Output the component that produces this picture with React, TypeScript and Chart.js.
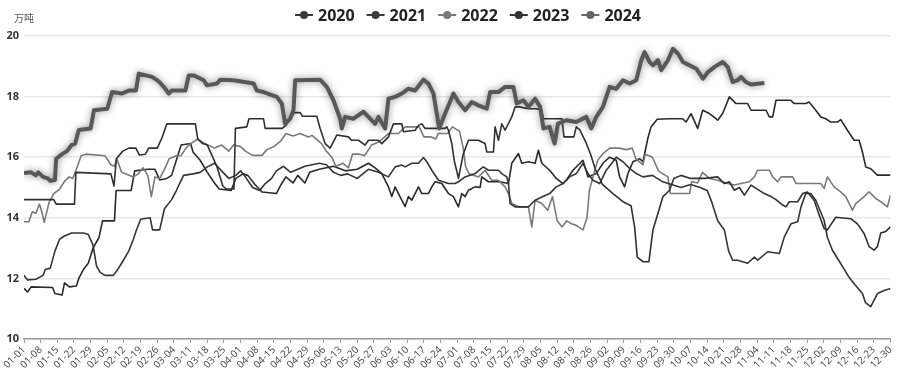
import { useEffect, useRef } from 'react';
import { Chart, registerables } from 'chart.js';
Chart.register(...registerables);

const years = ['2020', '2021', '2022', '2023', '2024'];
const monthLengths = [31, 29, 31, 30, 31, 30, 31, 31, 30, 31, 30, 30];
const categories: string[] = [];
monthLengths.forEach((n, m) => {
  for (let d = 1; d <= n; d++) categories.push(String(m + 1).padStart(2, '0') + '-' + String(d).padStart(2, '0'));
});
const yTicks = [10, 12, 14, 16, 18, 20];

const s2020: [number, number][] = [[0,14.6],[12.5,14.6],[13.5,14.45],[21.2,14.45],[21.8,15.5],[36.5,15.45],[37.8,15.05],[38.8,15.95],[41.5,16.2],[44,16.3],[47,16.3],[48.5,16.07],[51,16.1],[52.4,16.3],[56,16.3],[58,16.65],[60,17.1],[72,17.1],[73,16.6],[75,16.45],[77,16.4],[79,16.05],[81,15.7],[83.5,15.05],[85,14.95],[88.2,14.95],[88.8,16.95],[93.6,17.0],[94.5,17.27],[100.6,17.27],[101.3,16.95],[108.5,16.95],[110,17.05],[111.8,17.27],[113.5,17.47],[116,17.47],[117,17.35],[123,17.35],[124.4,16.95],[126.5,16.45],[128.6,16.3],[131.4,16.73],[136.3,16.67],[137.6,16.56],[140.5,16.56],[143.3,16.4],[144.7,16.56],[148.9,16.56],[150.3,16.45],[153.1,16.67],[155.2,17.1],[158.7,17.1],[159.4,16.84],[164.3,16.89],[165.7,17.05],[167.1,17.1],[168.5,16.95],[176.9,16.95],[177.6,17.0],[178.3,16.89],[179.7,16.45],[180.7,15.9],[182.5,15.3],[184.5,16.1],[186.7,16.56],[190.9,16.56],[193.7,16.45],[194.4,16.17],[197.2,16.17],[197.9,17.0],[199.3,16.56],[200.7,17.1],[202.1,16.89],[204.9,17.33],[206.3,17.66],[208,17.66],[211.9,17.6],[215.4,17.6],[217.5,17.55],[218.2,17.27],[226,17.27],[226.8,16.67],[231,16.67],[232,17.0],[233.5,16.9],[236,16.5],[238,16.1],[240,15.6],[243,15.1],[247.4,14.8],[251.6,14.53],[255,14.4],[256.5,13.7],[257.6,12.7],[260,12.55],[262.5,12.55],[264.2,13.6],[266.3,14.14],[268.4,14.7],[271.1,14.9],[273,15.3],[276,15.4],[280,15.3],[286,15.3],[291.4,15.35],[294.2,15.13],[296.3,15.19],[298.4,14.91],[300.5,15.0],[302.6,14.75],[305.4,15.08],[307.5,14.97],[311,14.8],[313.8,14.7],[315.9,14.6],[318.7,14.42],[320.1,14.36],[321.5,14.53],[325,14.53],[327.1,14.8],[329.1,14.85],[331.9,14.58],[334,14.1],[336.1,13.65],[337.5,13.6],[341,14.02],[347.3,13.97],[350.1,13.8],[352.9,13.48],[355,13.05],[357.1,12.93],[358.5,13.05],[359.9,13.5],[362,13.55],[364,13.7]];

const s2021: [number, number][] = [[0,12.1],[1.5,11.95],[5,11.97],[8,12.1],[9,12.3],[11,12.33],[13,12.9],[15,13.3],[17,13.4],[20,13.5],[25,13.5],[27,13.45],[29,13.1],[30.5,12.4],[32,12.2],[34,12.1],[37.5,12.1],[39,12.25],[41,12.5],[44,12.9],[46,13.3],[47,13.55],[49,13.95],[53,14.0],[54,13.6],[57,13.6],[59,14.3],[62,14.6],[64,14.9],[67,15.4],[71,15.45],[74,15.5],[77,15.68],[80,15.8],[83,15.55],[86,15.3],[89,15.4],[91,15.55],[93,15.35],[96,15.0],[99,14.9],[101,15.1],[104,15.3],[106,15.55],[109,15.7],[112,15.5],[115,15.6],[118,15.7],[121,15.75],[124,15.8],[127,15.75],[130,15.5],[133,15.4],[136,15.45],[140,15.3],[144.7,15.6],[148.9,15.5],[153.1,15.35],[155.9,15.68],[158.7,15.74],[160.1,15.68],[162.9,15.8],[165.7,15.8],[167.8,15.99],[169.2,15.85],[171.3,15.57],[174.1,15.24],[178.3,15.13],[181.1,15.13],[182.5,15.19],[185.3,15.35],[189.5,15.46],[192.9,15.68],[195.1,15.57],[199.3,15.57],[200.7,15.46],[202.8,15.35],[203.5,15.13],[204.2,14.47],[206.3,14.36],[211.9,14.36],[213.3,14.47],[214.7,14.58],[218,14.7],[220.8,14.8],[223.6,15.02],[226.4,15.13],[229.2,15.35],[232,15.46],[234.8,15.8],[236.9,15.46],[239,15.24],[241.8,15.13],[244.6,15.57],[247.4,15.85],[248.8,16.0],[251.6,15.85],[254.4,15.63],[257.2,15.46],[260,15.35],[264,15.4],[268,15.2],[272,15.1],[276,15.0],[280,15.1],[284,15.0],[287,14.9],[289,14.5],[291.4,13.9],[294.2,13.6],[296,12.9],[297.7,12.6],[299.8,12.6],[304,12.5],[306.8,12.7],[308.2,12.6],[312.4,12.88],[317.3,12.82],[319.4,13.37],[322.2,13.8],[325,13.87],[326.4,14.36],[328.4,14.8],[330.5,14.8],[332.6,14.58],[336.1,13.92],[337.5,13.35],[339.6,12.93],[343,12.5],[346.5,12.05],[349,11.8],[352.2,11.5],[353.5,11.2],[355.7,11.07],[358.5,11.5],[361.3,11.6],[364,11.67]];

const s2022: [number, number][] = [[0,13.87],[2,13.87],[3.5,14.2],[5,14.15],[6.5,14.45],[7.5,14.2],[8.5,13.85],[10.5,14.5],[12.5,14.8],[15,14.95],[17,15.2],[19,15.35],[20.5,15.3],[22,15.6],[24,16.05],[26,16.1],[34,16.05],[36.5,15.75],[38,15.7],[39,15.95],[41,15.5],[46,15.35],[48,15.45],[50,15.65],[52,15.4],[53.5,14.7],[55,15.35],[57,15.3],[59,15.6],[61,15.95],[64,16.05],[66,16.05],[68,16.3],[70,16.45],[73,16.6],[76,16.45],[80,16.3],[83,16.4],[86,16.2],[88,16.4],[91,16.35],[93,16.2],[96,16.06],[100,16.06],[102,16.25],[105,16.35],[108,16.55],[110,16.78],[113,16.7],[116,16.78],[119.5,16.67],[121,16.72],[125,16.45],[127,16.2],[129.3,16.0],[131,15.7],[134,15.8],[136.3,15.65],[138,16.1],[141,16.1],[143,16.05],[146,16.4],[149,16.5],[153.1,16.78],[157.3,16.78],[160,17.0],[166,17.0],[168,16.67],[171,16.67],[173,16.6],[174,16.78],[178,16.78],[180,17.0],[183,16.85],[184.5,16.3],[185.5,15.7],[187,15.45],[190.9,15.35],[193.7,15.57],[196.5,15.24],[199.3,15.24],[200.7,15.13],[202.1,15.02],[203.5,14.8],[204.9,14.47],[208,14.36],[211.9,14.36],[213.3,13.7],[214.7,14.58],[217.5,14.47],[220,14.25],[222,14.7],[224,13.9],[226,13.7],[228,13.9],[230,13.8],[232,13.75],[234.8,13.6],[236.5,14.0],[237.5,14.9],[239,15.35],[241,15.9],[243,16.1],[246,16.3],[250,16.3],[253,16.25],[255.5,16.3],[257,15.95],[260,15.75],[261,16.1],[264,16.0],[266.5,15.55],[268.4,15.45],[270.5,15.35],[271.5,14.8],[279.6,14.8],[280.5,15.2],[283,15.15],[285,15.5],[288,15.3],[291.4,15.24],[295.6,15.13],[298.4,15.08],[301.2,15.13],[304.7,15.19],[306.8,15.35],[308.2,15.57],[313.1,15.57],[314.5,15.35],[316.6,15.19],[318,15.35],[322.9,15.35],[324.3,15.13],[334.7,15.13],[336.1,14.97],[337.5,15.35],[340.3,15.02],[342.4,14.9],[345.2,14.7],[348,14.25],[349.4,14.47],[352.9,14.7],[355,14.86],[357.8,14.64],[359.9,14.53],[362.7,14.36],[364,14.75]];

const s2023: [number, number][] = [[0,11.67],[1.5,11.55],[3,11.72],[12,11.7],[13,11.5],[16,11.45],[17,11.85],[19,11.72],[22,11.75],[23,12.0],[25,12.3],[27,12.5],[29,13.0],[31.5,13.35],[33,13.9],[38,13.9],[38.7,14.9],[45,14.9],[46.5,15.55],[52,15.6],[55,15.6],[57,15.25],[60,15.3],[62,15.4],[64,15.9],[66,16.4],[70,16.45],[71,16.17],[74,15.9],[77,15.5],[80,15.15],[82,14.95],[87,14.9],[89,15.3],[92,15.45],[94,15.4],[97,15.1],[100,14.85],[106,14.8],[108,15.1],[110,15.35],[113,15.15],[115,15.4],[118,15.15],[120,15.5],[124,15.6],[130,15.7],[135,15.55],[140,15.6],[144.7,15.8],[147.5,15.65],[150.3,15.46],[153.1,15.02],[154.5,14.7],[155.9,15.02],[157.3,14.8],[158.7,14.58],[160.1,14.37],[161.5,14.7],[162.9,14.58],[165.7,15.02],[167.1,14.8],[169.9,14.8],[171.3,15.02],[172.7,15.19],[175.5,15.13],[178.3,14.8],[180.4,14.7],[181.8,14.47],[182.5,14.36],[183.9,14.8],[185.3,14.7],[186.7,14.91],[189.5,15.02],[191.6,15.0],[192.3,15.35],[195.1,15.19],[199.3,15.2],[203.5,15.13],[204.9,15.8],[207.7,16.12],[209.1,15.8],[211.9,15.85],[214.7,15.8],[216.1,16.23],[217.5,15.8],[220.8,15.57],[223.6,15.3],[226.4,15.13],[227.8,15.24],[230.6,15.57],[234.8,15.9],[236.9,15.35],[240.4,15.46],[243.2,15.8],[246,16.0],[248.8,15.9],[250.2,15.35],[252.3,15.02],[253.7,15.46],[255.8,15.85],[258.6,15.95],[260,15.85],[262,16.6],[263.4,17.0],[266,17.25],[271,17.27],[276.7,17.27],[278.1,17.16],[280.2,17.44],[283,16.95],[285.1,17.55],[287.9,17.44],[290.7,17.27],[291.4,17.22],[293.5,17.44],[296.3,17.99],[299.1,17.77],[304,17.77],[305.4,17.55],[311.7,17.55],[313.1,17.33],[314.5,17.33],[315.9,17.88],[322.1,17.88],[323.5,17.77],[328.4,17.77],[329.8,17.82],[332.6,17.55],[334.7,17.33],[336.8,17.27],[338.9,17.16],[341.7,17.16],[343.1,17.24],[345.9,16.89],[348.7,16.56],[350.8,16.56],[352.2,16.17],[353.6,15.68],[355.7,15.62],[358.5,15.41],[364,15.41]];

const s2024: [number, number][] = [[0,15.48],[3,15.5],[5,15.4],[6,15.5],[8,15.35],[10,15.3],[11,15.22],[13,15.25],[13.5,15.95],[16,16.1],[18,16.2],[20,16.4],[21.5,16.45],[23,16.9],[28,16.95],[29.4,17.55],[35,17.6],[37,18.15],[41,18.1],[44,18.2],[47,18.2],[48.2,18.76],[53.8,18.65],[56.6,18.5],[59,18.3],[60.8,18.1],[62,18.2],[67.8,18.2],[69.2,18.7],[71.3,18.7],[75.5,18.54],[76.9,18.37],[81,18.43],[82.5,18.56],[88,18.54],[96.5,18.43],[97.8,18.2],[100.6,18.15],[106.2,17.99],[108.3,17.77],[109.7,17.1],[111.8,17.27],[113.2,17.55],[113.9,18.54],[124.4,18.56],[127.2,18.32],[130,17.88],[132.8,17.27],[133.5,16.95],[134.9,17.33],[138.4,17.27],[142.6,17.5],[145.4,17.27],[147.5,17.1],[148.9,17.33],[151.7,16.95],[153.1,17.93],[155.9,17.99],[158.7,18.1],[161.5,18.26],[164.3,18.2],[167.8,18.56],[169.9,18.43],[172,18.1],[173.4,17.44],[174.4,16.95],[176.9,17.44],[180.4,18.1],[182.5,17.82],[185.3,17.55],[188.1,17.82],[190.9,17.71],[194.4,17.6],[195.8,18.15],[199.3,18.15],[202.1,18.32],[205.6,18.32],[207,17.77],[209.8,17.88],[211.9,17.66],[214.7,17.93],[216.8,17.66],[218.2,16.95],[220.8,17.0],[222.9,16.45],[224.3,17.11],[227.8,17.22],[232,17.16],[236.2,17.33],[238.3,16.95],[240.4,17.33],[243.2,17.66],[246,18.32],[248.8,18.26],[251.6,18.54],[254.4,18.43],[257.2,18.54],[259.3,19.2],[260.7,19.47],[262.8,19.14],[264.2,19.03],[266.3,19.2],[267.7,18.87],[270.5,19.2],[272.6,19.58],[274.7,19.42],[276.8,19.14],[279.6,19.03],[282.4,18.92],[285.2,18.59],[287.3,18.81],[290.1,18.98],[293.5,19.14],[295.6,18.98],[297.7,18.48],[299.8,18.54],[301.2,18.65],[303.3,18.48],[305.4,18.4],[311,18.45]];

const seriesData = [s2020, s2021, s2022, s2023, s2024];
const lineColors = ['#303030', '#353535', '#7a7a7a', '#2a2a2a', '#585858'];
const legendColors = ['#3a3a3a', '#3a3a3a', '#7a7a7a', '#333333', '#666666'];

const glowPlugin = {
  id: 'glow',
  beforeDatasetDraw(chart: any, args: any) {
    if (args.index === 4) {
      const ctx = chart.ctx;
      ctx.save();
      ctx.shadowColor = 'rgba(0,0,0,0.45)';
      ctx.shadowBlur = 7;
    }
  },
  afterDatasetDraw(chart: any, args: any) {
    if (args.index === 4) chart.ctx.restore();
  },
};

const legendPlugin = {
  id: 'customLegend',
  afterDraw(chart: any) {
    const ctx = chart.ctx;
    ctx.save();
    ctx.font = 'bold 16px "Open Sans"';
    ctx.textBaseline = 'middle';
    let x = 295;
    const y = 15;
    years.forEach((yr, i) => {
      const c = legendColors[i];
      ctx.strokeStyle = c;
      ctx.lineWidth = 2;
      ctx.beginPath();
      ctx.moveTo(x, y);
      ctx.lineTo(x + 18, y);
      ctx.stroke();
      ctx.fillStyle = c;
      ctx.beginPath();
      ctx.arc(x + 9, y, 4, 0, Math.PI * 2);
      ctx.fill();
      ctx.fillStyle = '#222';
      ctx.fillText(yr, x + 23, y + 1);
      x += 23 + ctx.measureText(yr).width + 12;
    });
    ctx.font = '10px "Noto Sans CJK SC"';
    ctx.fillStyle = '#555';
    ctx.textBaseline = 'middle';
    ctx.fillText('万吨', 14, 18);
    ctx.restore();
  },
};

export default function App() {
  const ref = useRef<HTMLCanvasElement | null>(null);
  useEffect(() => {
    if (!ref.current) return;
    const chart = new Chart(ref.current, {
      type: 'line',
      data: {
        datasets: years.map((yr, i) => ({
          label: yr,
          data: seriesData[i].map(([x, y]) => ({ x, y })),
          borderColor: lineColors[i],
          backgroundColor: lineColors[i],
          borderWidth: i === 4 ? 4 : 1.6,
          pointRadius: 0,
          tension: 0,
          fill: false,
          borderJoinStyle: 'round' as const,
          order: i === 4 ? 0 : 1,
        })),
      },
      options: {
        animation: false,
        responsive: false,
        devicePixelRatio: 1,
        layout: { padding: { top: 36, right: 6, left: 0, bottom: 0 } },
        plugins: { legend: { display: false }, tooltip: { enabled: false } },
        scales: {
          x: {
            type: 'linear',
            min: 0,
            max: categories.length - 1,
            ticks: {
              stepSize: 7,
              autoSkip: false,
              maxRotation: 45,
              minRotation: 45,
              color: '#444',
              font: { family: '"Open Sans"', size: 10 },
              padding: 1,
              callback: (v: any) => categories[v] ?? '',
            },
            grid: { drawOnChartArea: false, drawTicks: true, tickLength: 4, color: '#999' },
            border: { display: true, color: '#999', width: 1.5 },
            afterFit: (s: any) => { s.height = 33; },
          },
          y: {
            min: 10,
            max: 20,
            afterBuildTicks: (s: any) => { s.ticks = yTicks.map((v) => ({ value: v })); },
            ticks: {
              color: '#333',
              font: { family: '"Open Sans"', size: 11, weight: 'bold' },
              padding: 5,
            },
            grid: { color: '#e8e8e8', lineWidth: 1.5, drawTicks: false },
            border: { display: false },
            afterFit: (s: any) => { s.width = 24; },
          },
        },
      },
      plugins: [glowPlugin, legendPlugin],
    });
    return () => chart.destroy();
  }, []);
  return (
    <div style={{ position: 'absolute', left: 0, top: 0, width: 900, height: 372, background: '#fff' }}>
      <canvas ref={ref} width={900} height={372} />
    </div>
  );
}
